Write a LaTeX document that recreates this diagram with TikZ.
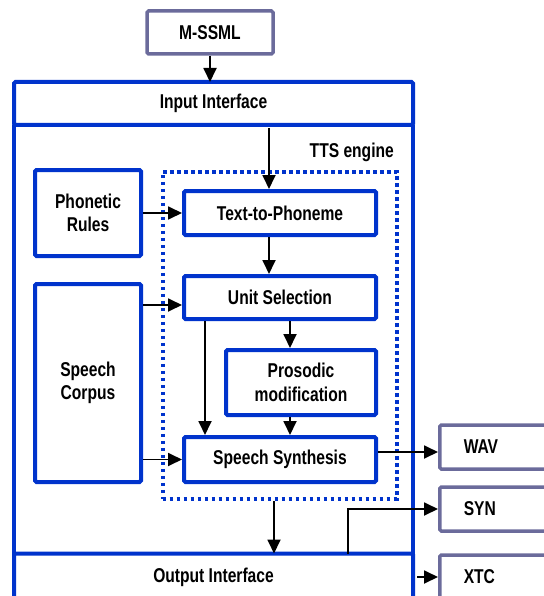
\documentclass[tikz,border=0pt]{standalone}
\usepackage{fontspec}
\setmainfont{Liberation Sans}[FakeStretch=0.78]
\usetikzlibrary{arrows.meta, positioning}
\definecolor{ttsblue}{RGB}{0,51,204}
\definecolor{iogray}{RGB}{107,107,155}
\newcommand{\lblfont}{\fontsize{20}{23.5}\selectfont\bfseries}
\tikzset{
blk/.style={draw=ttsblue, line width=4pt, rounded corners=1.5pt, align=center, inner sep=0pt, font=\lblfont},
ifacebox/.style={blk, minimum width=399pt, outer sep=0pt},
iobox/.style={draw=iogray, line width=3.5pt, rounded corners=1.5pt, inner sep=0pt, font=\lblfont},
sink/.style={iobox, anchor=west, minimum height=44pt, text width=72pt, inner xsep=24pt, align=left},
link/.style={line width=1.8pt, -{Triangle[length=14pt,width=13pt]}},
}

\begin{document}
\begin{tikzpicture}[x=1pt, y=-1pt]
\useasboundingbox (0,0) rectangle (543,596);

% Nodes
\node (mssml) [iobox, minimum width=126pt, minimum height=43pt] at (210,32.5) {M-SSML};
\node (inif) [ifacebox, minimum height=43pt] at (213.5,103.5) {Input Interface};
\node (outif) [ifacebox, minimum height=47pt] at (213.5,577) {Output Interface};
\draw [ttsblue, line width=4pt] (inif.south west) -- (outif.north west);
\draw [ttsblue, line width=4pt] (inif.south east) -- (outif.north east);

\node (engine) [draw=ttsblue, line width=4pt, dash pattern=on 3.5pt off 3.5pt, minimum width=234pt, minimum height=327pt, inner sep=0pt] at (279.7,335.3) {};
\node (enginelbl) [anchor=east, inner sep=0pt, font=\lblfont] at (394,152) {TTS engine};

\node (rules) [blk, minimum width=106pt, minimum height=86pt] at (88,213) {Phonetic\\Rules};
\node (corpus) [blk, minimum width=106pt, minimum height=198pt] at (88,383) {Speech\\Corpus};
\node (tph) [blk, minimum width=192pt, minimum height=44pt] at (280,213) {Text-to-Phoneme};
\node (usel) [blk, minimum width=192pt, minimum height=43pt] at (280,297.5) {Unit Selection};
\node (pros) [blk, minimum width=150pt, minimum height=65pt] at (301,382.5) {Prosodic\\modification};
\node (synth) [blk, minimum width=192pt, minimum height=45pt] at (280,459.5) {Speech Synthesis};

\node (wav) [sink] at (438,447) {WAV};
\node (syn) [sink] at (438,509) {SYN};
\node (xtc) [sink] at (438,577) {XTC};

% Connectors
\coordinate (tphin) at ([xshift=-11pt]tph.north);
\coordinate (usin) at ([yshift=-7.5pt]usel.west);
\coordinate (wavout) at ([yshift=7.5pt]synth.east);
\coordinate (engout) at ([xshift=-5.7pt]engine.south);
\coordinate (synout) at ([xshift=134.5pt]outif.north);

\draw [link] (mssml) -- (mssml |- inif.north);
\draw [link, shorten <=3pt] (tphin |- inif.south) -- (tphin);
\draw [link] (rules) -- (tph);
\draw [link] ([xshift=-11pt]tph.south) -- ([xshift=-11pt]usel.north);
\draw [link] (corpus.east |- usin) -- (usin);
\draw [link] ([xshift=10pt]usel.south) -- ([xshift=-11pt]pros.north);
\draw [link] ([xshift=-75pt]usel.south) -- ([xshift=-75pt]synth.north);
\draw [link] ([xshift=-11pt]pros.south) -- ([xshift=10pt]synth.north);
\draw [link] (corpus.east |- synth.west) -- (synth.west);
\draw [link] (wavout) -- (wavout -| wav.west);
\draw [link] (engout) -- (engout |- outif.north);
\draw [link] (synout) |- (syn.west);
\draw [link, shorten <=4pt] (outif) -- (xtc);

\end{tikzpicture}
\end{document}
